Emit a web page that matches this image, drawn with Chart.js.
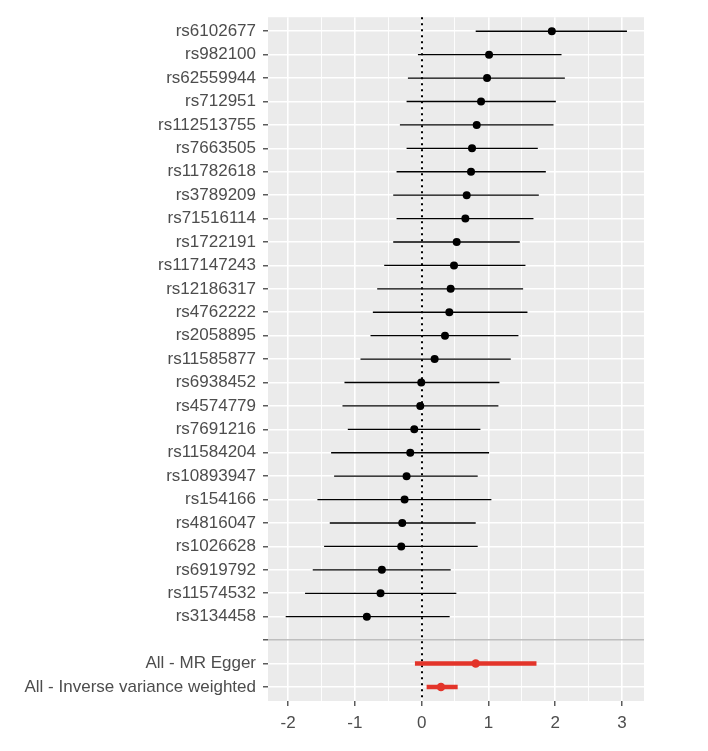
<!DOCTYPE html>
<html>
<head>
<meta charset="utf-8">
<script src="https://cdn.jsdelivr.net/npm/chart.js@4/dist/chart.umd.min.js"></script>
<style>
  body { margin: 0; background: #fff; }
  #plot { display: block; }
</style>
</head>
<body>
<canvas id="plot" width="708" height="751"></canvas>
<script>
// single SNP estimates, top to bottom
const snpLabels = [
  'rs6102677', 'rs982100', 'rs62559944', 'rs712951', 'rs112513755', 'rs7663505',
  'rs11782618', 'rs3789209', 'rs71516114', 'rs1722191', 'rs117147243', 'rs12186317',
  'rs4762222', 'rs2058895', 'rs11585877', 'rs6938452', 'rs4574779', 'rs7691216',
  'rs11584204', 'rs10893947', 'rs154166', 'rs4816047', 'rs1026628', 'rs6919792',
  'rs11574532', 'rs3134458'
];
const snpBeta = [
  1.95, 1.01, 0.98, 0.89, 0.825, 0.755, 0.74, 0.675, 0.655, 0.525, 0.485, 0.435,
  0.415, 0.35, 0.195, -0.005, -0.02, -0.11, -0.17, -0.225, -0.255, -0.29, -0.305,
  -0.595, -0.615, -0.82
];
const snpLow = [
  0.81, -0.055, -0.205, -0.225, -0.325, -0.225, -0.375, -0.425, -0.375, -0.425, -0.56, -0.665,
  -0.73, -0.765, -0.915, -1.155, -1.185, -1.105, -1.355, -1.31, -1.56, -1.375, -1.46,
  -1.63, -1.745, -2.035
];
const snpHigh = [
  3.075, 2.095, 2.145, 2.01, 1.975, 1.74, 1.86, 1.755, 1.675, 1.47, 1.555, 1.52,
  1.585, 1.45, 1.335, 1.165, 1.15, 0.88, 1.01, 0.84, 1.045, 0.81, 0.84,
  0.435, 0.52, 0.42
];

// combined estimates
const summaryLabels = ['All - MR Egger', 'All - Inverse variance weighted'];
const summaryBeta = [0.81, 0.29];
const summaryLow = [-0.10, 0.075];
const summaryHigh = [1.72, 0.54];

const xTicks = [-2, -1.5, -1, -0.5, 0, 0.5, 1, 1.5, 2, 2.5, 3];

// one empty row separates the SNPs from the summary rows
const rowLabels = [...snpLabels, '', ...summaryLabels];
const firstSummaryRow = snpLabels.length + 1;

const textGrey = '#4d4d4d';
const red = '#e3342a';

function segments(low, high, offset) {
  const pts = [];
  low.forEach((lo, i) => {
    pts.push({ x: lo, y: i + offset }, { x: high[i], y: i + offset }, { x: null, y: null });
  });
  return pts;
}

const panelBg = {
  id: 'panelBg',
  beforeDraw(chart) {
    const { ctx, chartArea: a } = chart;
    ctx.save();
    ctx.fillStyle = '#ebebeb';
    ctx.fillRect(a.left, a.top, a.right - a.left, a.bottom - a.top);
    ctx.restore();
  }
};

// dotted reference line at zero, under the estimates
const zeroLine = {
  id: 'zeroLine',
  beforeDatasetsDraw(chart) {
    const { ctx, chartArea: a, scales } = chart;
    const x = Math.round(scales.x.getPixelForValue(0));
    ctx.save();
    ctx.strokeStyle = '#000';
    ctx.lineWidth = 2;
    ctx.setLineDash([2, 4]);
    ctx.beginPath();
    ctx.moveTo(x, a.top);
    ctx.lineTo(x, a.bottom);
    ctx.stroke();
    ctx.restore();
  }
};

new Chart(document.getElementById('plot'), {
  type: 'scatter',
  data: {
    datasets: [
      {
        data: segments(summaryLow, summaryHigh, firstSummaryRow),
        showLine: true, spanGaps: false,
        borderColor: red, borderWidth: 4.5, pointRadius: 0, borderCapStyle: 'butt'
      },
      {
        data: summaryBeta.map((b, i) => ({ x: b, y: i + firstSummaryRow })),
        backgroundColor: red, borderWidth: 0, pointRadius: 4.3
      },
      {
        data: segments(snpLow, snpHigh, 0),
        showLine: true, spanGaps: false,
        borderColor: '#000', borderWidth: 1.3, pointRadius: 0
      },
      {
        data: snpBeta.map((b, i) => ({ x: b, y: i })),
        backgroundColor: '#000', borderWidth: 0, pointRadius: 4
      }
    ]
  },
  options: {
    responsive: false,
    animation: false,
    layout: { padding: { top: 13, right: 64, left: 0, bottom: 0 } },
    plugins: { legend: { display: false }, tooltip: { enabled: false } },
    scales: {
      x: {
        type: 'linear',
        min: -2.3,
        max: 3.33,
        afterBuildTicks: (axis) => { axis.ticks = xTicks.map(v => ({ value: v })); },
        afterFit: (axis) => { axis.height = 50; },
        border: { display: false },
        grid: {
          color: '#ffffff',
          lineWidth: (c) => Number.isInteger(c.tick.value) ? 1.6 : 0.9,
          tickColor: (c) => Number.isInteger(c.tick.value) ? '#333333' : 'rgba(0,0,0,0)',
          tickLength: 5,
          tickWidth: 1.2
        },
        ticks: {
          autoSkip: false,
          maxRotation: 0,
          padding: 7,
          color: textGrey,
          font: { family: 'Liberation Sans, Arial, sans-serif', size: 17 },
          callback: (v) => Number.isInteger(v) ? String(v) : ''
        }
      },
      y: {
        type: 'linear',
        reverse: true,
        min: -0.6,
        max: rowLabels.length - 0.4,
        afterBuildTicks: (axis) => { axis.ticks = rowLabels.map((_, i) => ({ value: i })); },
        afterFit: (axis) => { axis.width = 268; },
        border: { display: false },
        grid: {
          color: (c) => c.tick.value === snpLabels.length ? '#bebebe' : '#ffffff',
          lineWidth: 1.6,
          tickColor: '#333333',
          tickLength: 5,
          tickWidth: 1.2
        },
        ticks: {
          autoSkip: false,
          padding: 7,
          color: textGrey,
          font: { family: 'Liberation Sans, Arial, sans-serif', size: 17 },
          callback: (v) => rowLabels[v]
        }
      }
    }
  },
  plugins: [panelBg, zeroLine]
});
</script>
</body>
</html>
